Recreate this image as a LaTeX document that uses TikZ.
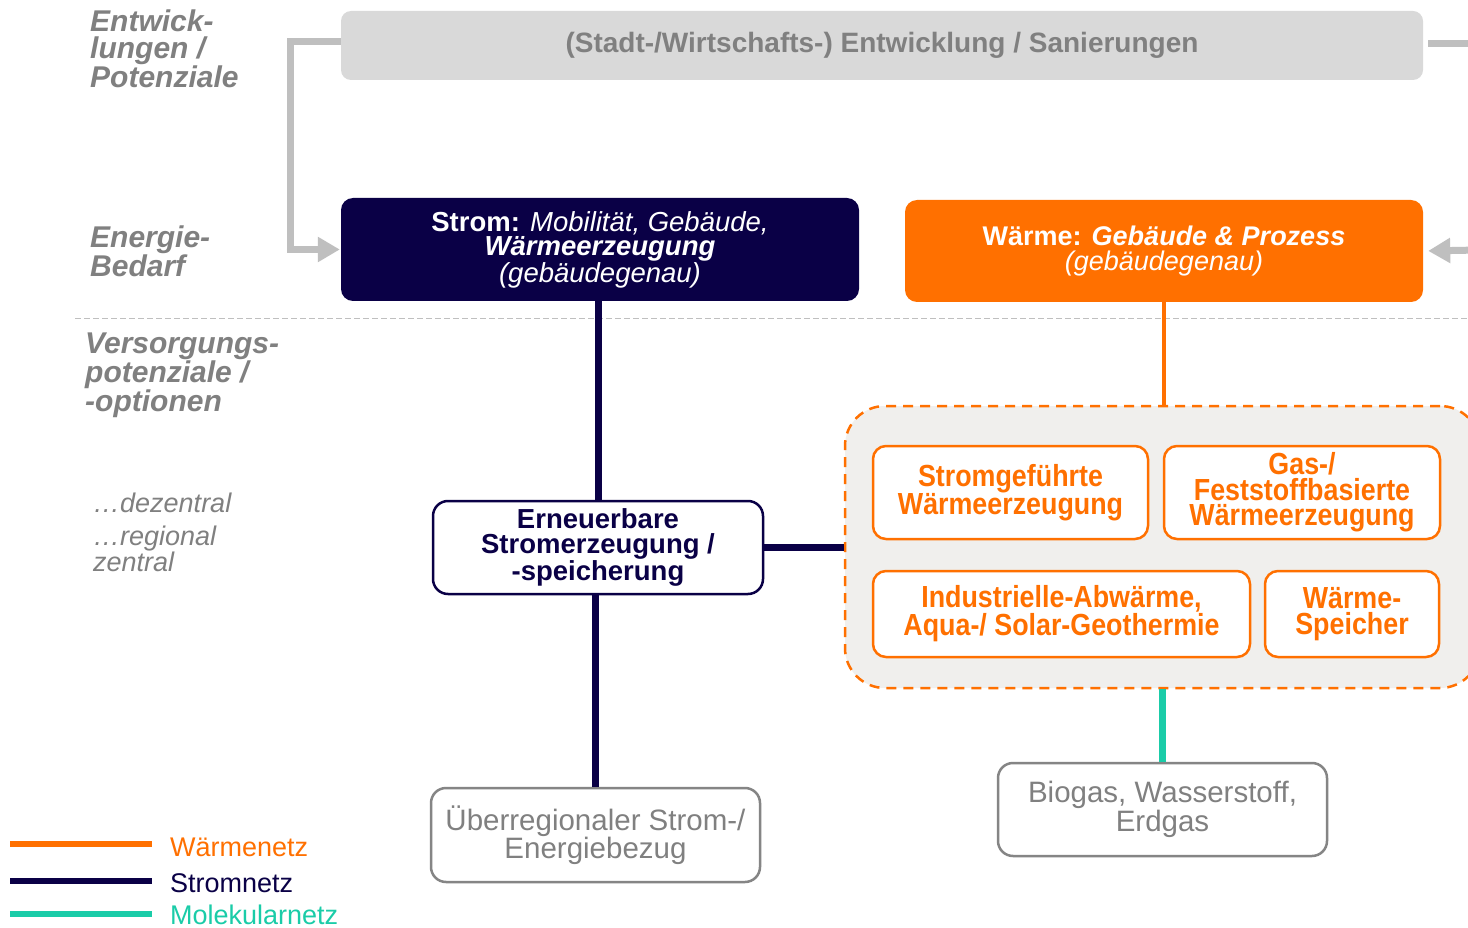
\documentclass[tikz,border=0pt]{standalone}
\usepackage{fontspec}
\setmainfont{Liberation Sans}
\newfontfamily\condfont[FakeStretch=0.88]{Liberation Sans}
\usetikzlibrary{arrows.meta}
\definecolor{navy}{HTML}{0A0046}
\definecolor{orng}{HTML}{FF7000}
\definecolor{tealc}{HTML}{1ACCA8}
\definecolor{lgray}{HTML}{BFBFBF}
\definecolor{hdrfill}{HTML}{D9D9D9}
\definecolor{txtgray}{HTML}{808080}
\definecolor{grpfill}{HTML}{F0EFED}
\definecolor{bordgray}{HTML}{858585}
\newcommand\myfs[2]{\fontsize{#1}{#2}\selectfont}
\tikzset{
  boxbase/.style={inner sep=0pt, align=center},
  hdrbox/.style={boxbase, fill=hdrfill, rounded corners=10pt, text=txtgray, font=\myfs{28}{25}\bfseries},
  navybox/.style={boxbase, fill=navy, rounded corners=12pt, text=white, font=\myfs{27.5}{24.5}},
  orangebox/.style={boxbase, fill=orng, rounded corners=12pt, text=white, font=\myfs{27}{24.5}},
  erbox/.style={boxbase, fill=white, draw=navy, line width=2.5pt, rounded corners=15pt, text=navy, font=\myfs{27.5}{24.5}\bfseries},
  grpbox/.style={boxbase, fill=grpfill, draw=orng, line width=2.5pt, dash pattern=on 10pt off 7pt, rounded corners=40pt},
  subbox/.style={boxbase, fill=white, draw=orng, line width=2.5pt, rounded corners=13pt, text=orng, font=\condfont\myfs{30.5}{25.5}\bfseries},
  graybox/.style={boxbase, fill=white, draw=bordgray, line width=2.5pt, rounded corners=15pt, text=txtgray, font=\myfs{29.5}{24.5}},
  sidelbl/.style={inner sep=0pt, anchor=north west, align=left, text=txtgray, font=\myfs{30}{27}\bfseries\itshape},
  sublbl/.style={inner sep=0pt, anchor=north west, align=left, text=txtgray, font=\myfs{27}{24}\itshape},
  leglbl/.style={inner sep=0pt, anchor=west, font=\myfs{27}{27}},
  conn/.style={line width=7pt},
  grayconn/.style={line width=7pt, draw=lgray},
  legline/.style={line width=6pt},
}
\begin{document}
\begin{tikzpicture}[x=1pt,y=-1pt]
\path[fill=white] (0,0) rectangle (1468,928);
\useasboundingbox (0,0) rectangle (1468,928);

% separator
\coordinate (sepL) at (75,318);
\coordinate (sepR) at (1468,318);
\draw[lgray, line width=1pt, dash pattern=on 6pt off 3pt] (sepL) -- (sepR);

% side labels
\node[sidelbl] (l1) at (90,10) {Entwick-\\lungen /\\Potenziale};
\node[sidelbl] (l2) at (90,226) {Energie-\\Bedarf};
\node[sidelbl] (l3) at (85,333) {Versorgungs-\\potenziale /\\-optionen};
\node[sublbl] (l4) at (93,493) {…dezentral};
\node[sublbl] (l5) at (93,526) {…regional\\zentral};

% main nodes
\node[hdrbox, minimum width=1082pt, minimum height=69pt] (top) at (882,45.5)
  {(Stadt-/Wirtschafts-) Entwicklung / Sanierungen};
\node[navybox, minimum width=518pt, minimum height=103pt] (strom) at (600,249.5)
  {\textbf{Strom:} \textit{Mobilität, Gebäude,}\\\textbf{\textit{Wärmeerzeugung}}\\\textit{(gebäudegenau)}};
\node[orangebox, minimum width=518pt, minimum height=102pt] (waerme) at (1164,251)
  {\textbf{Wärme: \textit{Gebäude \& Prozess}}\\\textit{(gebäudegenau)}};

\node[grpbox, minimum width=635pt, minimum height=282pt] (grp) at (1162.5,547) {};

\node[erbox, minimum width=330pt, minimum height=93pt] (ern) at (598,547.5)
  {Erneuerbare\\Stromerzeugung /\\-speicherung};

\node[subbox, minimum width=275pt, minimum height=93pt] (sg) at (1010.5,492.5)
  {Stromgeführte\\Wärmeerzeugung};
\node[subbox, minimum width=276pt, minimum height=93pt] (gas) at (1302,492.5)
  {Gas-/\\Feststoffbasierte\\Wärmeerzeugung};
\node[subbox, minimum width=377pt, minimum height=86pt] (ind) at (1061.5,614)
  {Industrielle-Abwärme,\\Aqua-/ Solar-Geothermie};
\node[subbox, minimum width=174pt, minimum height=86pt] (sp) at (1352,614)
  {Wärme-\\Speicher};

\node[graybox, minimum width=329pt, minimum height=93pt] (bio) at (1162.5,809.5)
  {Biogas, Wasserstoff,\\Erdgas};
\node[graybox, minimum width=329pt, minimum height=94pt] (ueb) at (595.5,835)
  {Überregionaler Strom-/\\Energiebezug};

% connectors
\draw[conn, navy] (ern.north) -- (ern.north |- strom.south);
\draw[conn, navy] (ueb.north) -- (ueb.north |- ern.south);
\draw[conn, navy] (ern.east) -- (ern.east -| grp.west);
\draw[conn, orng, line width=4pt] (waerme.south) -- (waerme.south |- grp.north);
\draw[conn, tealc] (bio.north) -- (bio.north |- grp.south);

% gray feedback arrows
\coordinate (gL) at (290,42);
\coordinate (gR1) at (1480,44);
\coordinate (gR2) at (1480,250);
\draw[grayconn, -{Triangle[length=22pt,width=24pt]}, shorten >=1pt]
  (top.west |- gL) -- (gL) |- (strom.west);
\draw[grayconn, shorten <=5pt] (top.east |- gR1) -- (gR1);
\draw[grayconn, -{Triangle[length=22pt,width=24pt]}, shorten >=5pt]
  (gR2) -- (waerme.east);

% legend
\coordinate (a1) at (10,844); \coordinate (b1) at (152,844);
\coordinate (a2) at (10,881); \coordinate (b2) at (152,881);
\coordinate (a3) at (10,914); \coordinate (b3) at (152,914);
\draw[legline, orng] (a1) -- (b1);
\draw[legline, navy] (a2) -- (b2);
\draw[legline, tealc] (a3) -- (b3);
\node[leglbl, text=orng] (t1) at (170,847) {Wärmenetz};
\node[leglbl, text=navy] (t2) at (170,883) {Stromnetz};
\node[leglbl, text=tealc] (t3) at (170,915) {Molekularnetz};
\end{tikzpicture}
\end{document}
